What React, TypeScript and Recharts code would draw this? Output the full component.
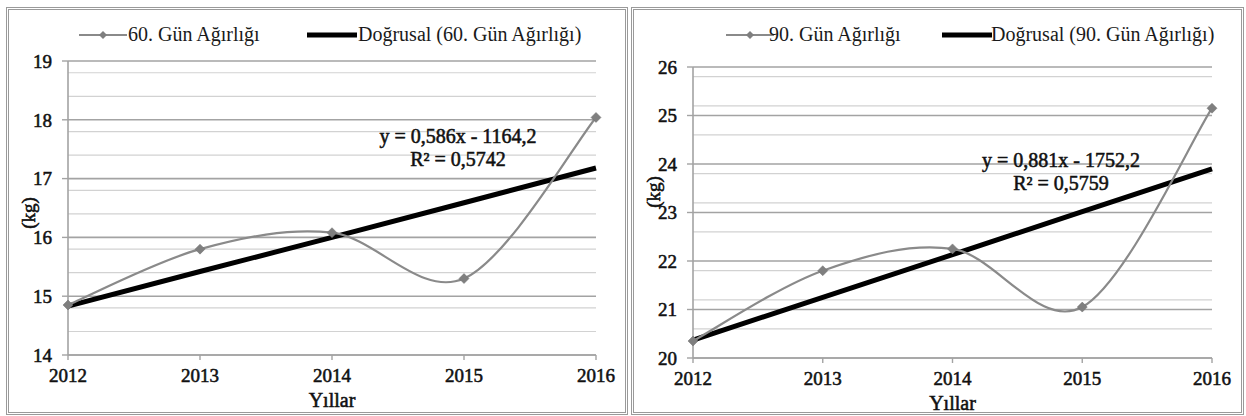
import React from "react";
import { LineChart, Line, XAxis, YAxis, CartesianGrid } from "recharts";

// values
const years = [2012, 2013, 2014, 2015, 2016];
const weight60 = [14.85, 15.8, 16.08, 15.3, 18.04];
const trend60 = [14.83, 15.42, 16.0, 16.59, 17.18];
const weight90 = [20.35, 21.8, 22.25, 21.05, 25.15];
const trend90 = [20.37, 21.25, 22.13, 23.02, 23.9];
const ticks60 = [14, 15, 16, 17, 18, 19];
const ticks90 = [20, 21, 22, 23, 24, 25, 26];

const FONT = "Liberation Serif";
const GRAY = "#8a8a8a";
const INK = "#111";

// faux bold: stroke the regular serif face a little
const boldSvg = { fontFamily: FONT, fill: INK, stroke: INK, strokeWidth: 0.55 };
const boldHtml: React.CSSProperties = { fontFamily: FONT, color: INK, WebkitTextStroke: "0.55px #111" };

// minor gridlines every 0.2 between the major ticks
const minorOf = (ticks: number[]) => {
  const out: number[] = [];
  for (let i = 0; i < ticks.length - 1; i++) {
    for (let k = 1; k < 5; k++) out.push(+(ticks[i] + k * 0.2).toFixed(1));
  }
  return out;
};

// Excel-like smoothed line (Catmull-Rom as cubic bezier)
const excelSmooth = (context: any) => {
  let pts: number[][] = [];
  return {
    areaStart() {},
    areaEnd() {},
    lineStart() {
      pts = [];
    },
    point(x: number, y: number) {
      pts.push([+x, +y]);
    },
    lineEnd() {
      const n = pts.length;
      if (!n) return;
      context.moveTo(pts[0][0], pts[0][1]);
      for (let i = 0; i < n - 1; i++) {
        const p0 = pts[Math.max(i - 1, 0)];
        const p1 = pts[i];
        const p2 = pts[i + 1];
        const p3 = pts[Math.min(i + 2, n - 1)];
        context.bezierCurveTo(
          p1[0] + (p2[0] - p0[0]) / 6,
          p1[1] + (p2[1] - p0[1]) / 6,
          p2[0] - (p3[0] - p1[0]) / 6,
          p2[1] - (p3[1] - p1[1]) / 6,
          p2[0],
          p2[1]
        );
      }
    },
  };
};

const Diamond = (props: any) => {
  const { cx, cy, index } = props;
  if (cx == null || cy == null) return <g key={index} />;
  const r = 5;
  return (
    <path
      key={index}
      d={`M${cx},${cy - r}L${cx + r},${cy}L${cx},${cy + r}L${cx - r},${cy}Z`}
      fill="#7f7f7f"
      stroke="#707070"
      strokeWidth={0.5}
    />
  );
};

type PanelProps = {
  left: number;
  width: number;
  weight: number[];
  trend: number[];
  ticks: number[];
  seriesName: string;
  equation: string;
  r2: string;
  margin: { top: number; right: number; bottom: number; left: number };
  legendX: number[];
  eqX: number;
  eqY: number;
  kgY: number;
  xLabelDy: number;
};

function Panel(p: PanelProps) {
  const rows = years.map((year, i) => ({ year, weight: p.weight[i], trend: p.trend[i] }));
  const W = p.width - 6;
  const H = 404;
  const lo = p.ticks[0];
  const hi = p.ticks[p.ticks.length - 1];
  return (
    <div
      style={{
        position: "absolute",
        left: p.left,
        top: 7,
        width: p.width,
        height: 408,
        boxSizing: "border-box",
        border: "3px double #9a9a9a",
        background: "#fff",
      }}
    >
      {/* legend */}
      <div style={{ position: "absolute", top: 13, left: 0, height: 24, width: W, fontFamily: FONT, fontSize: 20, color: "#1a1a1a" }}>
        <svg style={{ position: "absolute", left: p.legendX[0], top: 5 }} width={48} height={14}>
          <line x1={0} y1={7} x2={48} y2={7} stroke={GRAY} strokeWidth={2} />
          <path d="M24,3L28,7L24,11L20,7Z" fill="#7f7f7f" />
        </svg>
        <span style={{ position: "absolute", left: p.legendX[1], top: 0, whiteSpace: "nowrap" }}>{p.seriesName}</span>
        <svg style={{ position: "absolute", left: p.legendX[2], top: 5 }} width={50} height={14}>
          <line x1={0} y1={7} x2={50} y2={7} stroke="#000" strokeWidth={5} />
        </svg>
        <span style={{ position: "absolute", left: p.legendX[3], top: 0, whiteSpace: "nowrap" }}>
          Doğrusal ({p.seriesName})
        </span>
      </div>

      <div style={{ position: "absolute", left: 0, top: 0 }}>
        <LineChart width={W} height={H} data={rows} margin={p.margin}>
          <CartesianGrid vertical={false} horizontalValues={minorOf(p.ticks)} stroke="#d2d2d2" strokeWidth={1.2} />
          <CartesianGrid vertical={false} horizontalValues={p.ticks} stroke="#a3a3a3" strokeWidth={1.6} />
          <XAxis
            dataKey="year"
            type="number"
            domain={[2012, 2016]}
            ticks={years}
            allowDecimals={false}
            height={30}
            tickSize={5}
            tickMargin={9}
            axisLine={{ stroke: "#a3a3a3", strokeWidth: 1.6 }}
            tickLine={{ stroke: "#a3a3a3", strokeWidth: 1.4 }}
            tick={{ ...boldSvg, fontSize: 19 }}
            label={(lp: any) => {
              const vb = lp.viewBox;
              return (
                <text x={vb.x + vb.width / 2} y={vb.y + p.xLabelDy} textAnchor="middle" fontSize={20} {...boldSvg}>
                  Yıllar
                </text>
              );
            }}
          />
          <YAxis
            type="number"
            domain={[lo, hi]}
            ticks={p.ticks}
            width={45}
            tickSize={6}
            tickMargin={10}
            axisLine={{ stroke: "#a3a3a3", strokeWidth: 1.6 }}
            tickLine={{ stroke: "#a3a3a3", strokeWidth: 1.4 }}
            tick={{ ...boldSvg, fontSize: 19 }}
            label={() => {
              const x = 19;
              const y = p.kgY;
              return (
                <text x={x} y={y} transform={`rotate(-90 ${x} ${y})`} textAnchor="middle" dominantBaseline="central" fontSize={19} {...boldSvg}>
                  (kg)
                </text>
              );
            }}
          />
          <Line dataKey="trend" type="linear" stroke="#000" strokeWidth={5} dot={false} isAnimationActive={false} />
          <Line dataKey="weight" type={excelSmooth as any} stroke={GRAY} strokeWidth={2.2} dot={Diamond} isAnimationActive={false} />
        </LineChart>
      </div>

      {/* trendline equation */}
      <div
        style={{
          position: "absolute",
          left: p.eqX - 150,
          top: p.eqY - 12,
          width: 300,
          textAlign: "center",
          fontSize: 20,
          lineHeight: "23px",
          ...boldHtml,
        }}
      >
        <div>{p.equation}</div>
        <div>{p.r2}</div>
      </div>
    </div>
  );
}

export default function App() {
  return (
    <div style={{ position: "fixed", left: 0, top: 0, width: 1246, height: 416, background: "#fff" }}>
      <Panel
        left={6}
        width={622}
        weight={weight60}
        trend={trend60}
        ticks={ticks60}
        seriesName="60. Gün Ağırlığı"
        equation="y = 0,586x - 1164,2"
        r2="R² = 0,5742"
        margin={{ top: 51, right: 29, bottom: 29, left: 14 }}
        legendX={[70, 119, 298, 349]}
        eqX={449}
        eqY={127}
        kgY={203}
        xLabelDy={52}
      />
      <Panel
        left={631}
        width={613}
        weight={weight90}
        trend={trend90}
        ticks={ticks90}
        seriesName="90. Gün Ağırlığı"
        equation="y = 0,881x - 1752,2"
        r2="R² = 0,5759"
        margin={{ top: 57, right: 29, bottom: 26, left: 14 }}
        legendX={[92, 135, 308, 357]}
        eqX={427}
        eqY={151}
        kgY={182}
        xLabelDy={52}
      />
    </div>
  );
}
